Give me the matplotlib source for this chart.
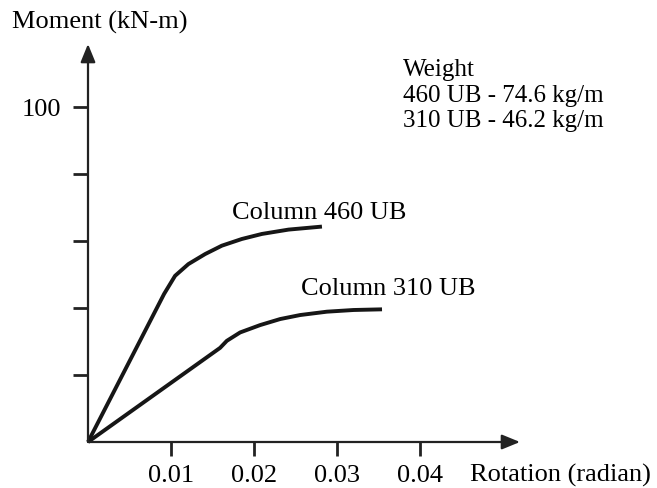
import matplotlib
matplotlib.use("Agg")
import matplotlib.pyplot as plt

# moment-rotation curves
rot_460 = [0.0, 0.00916, 0.01048, 0.01208, 0.01410, 0.01611, 0.01852, 0.02093, 0.02414, 0.02816]
mom_460 = [0.0, 44.2, 49.6, 53.1, 56.1, 58.6, 60.6, 62.1, 63.4, 64.3]

rot_310 = [0.0, 0.0159, 0.01671, 0.01831, 0.02072, 0.02313, 0.02554, 0.02876, 0.03196, 0.03539]
mom_310 = [0.0, 28.1, 30.2, 32.7, 34.9, 36.7, 37.9, 38.9, 39.4, 39.6]

y_ticks = [20, 40, 60, 80, 100]
y_ticklabels = ["", "", "", "", "100"]
x_ticks = [0.01, 0.02, 0.03, 0.04]
x_ticklabels = ["0.01", "0.02", "0.03", "0.04"]

plt.rcParams['font.family'] = ['Liberation Serif', 'DejaVu Serif']

W, H = 657, 489
fig = plt.figure(figsize=(W / 100, H / 100), dpi=100)
ax = fig.add_axes([88 / W, (H - 443) / H, 432 / W, 398 / H])
xmax, ymax = 0.052, 118.8
ax.set_xlim(0, xmax)
ax.set_ylim(0, ymax)

for s in ax.spines.values():
    s.set_visible(False)

# axes with arrow heads
arrow = dict(arrowstyle='-|>,head_length=1.1,head_width=0.45', color='#222222', lw=1.6,
             shrinkA=0, shrinkB=0)
ax.annotate('', xy=(xmax, 0), xytext=(0, 0), arrowprops=arrow, annotation_clip=False)
ax.annotate('', xy=(0, ymax), xytext=(0, 0), arrowprops=arrow, annotation_clip=False)

ax.plot(rot_460, mom_460, color='#161616', lw=2.8, solid_capstyle='butt',
        solid_joinstyle='round', clip_on=False)
ax.plot(rot_310, mom_310, color='#161616', lw=2.8, solid_capstyle='butt',
        solid_joinstyle='round', clip_on=False)

ax.set_yticks(y_ticks)
ax.set_yticklabels(y_ticklabels)
ax.set_xticks(x_ticks)
ax.set_xticklabels(x_ticklabels)
ax.tick_params(axis='y', direction='out', length=11, width=2, color='#222222',
               labelsize=19, pad=8)
ax.tick_params(axis='x', direction='out', length=10, width=2, color='#222222',
               labelsize=19, pad=6)

fs = 19
ax.text(0.01735, 68.7, 'Column 460 UB', fontsize=fs, va='center', ha='left')
ax.text(0.02566, 46.0, 'Column 310 UB', fontsize=fs, va='center', ha='left')
ax.text(0.0379, 111.3, 'Weight', fontsize=18, va='center', ha='left')
ax.text(0.0379, 103.6, '460 UB - 74.6 kg/m', fontsize=18, va='center', ha='left')
ax.text(0.0379, 96.1, '310 UB - 46.2 kg/m', fontsize=18, va='center', ha='left')
ax.text(0.046, -9.8, 'Rotation (radian)', fontsize=fs, va='center', ha='left', clip_on=False)
fig.text(12 / W, 1 - 22 / H, 'Moment (kN-m)', fontsize=fs, va='center', ha='left')

fig.savefig('out.png', dpi=100)
